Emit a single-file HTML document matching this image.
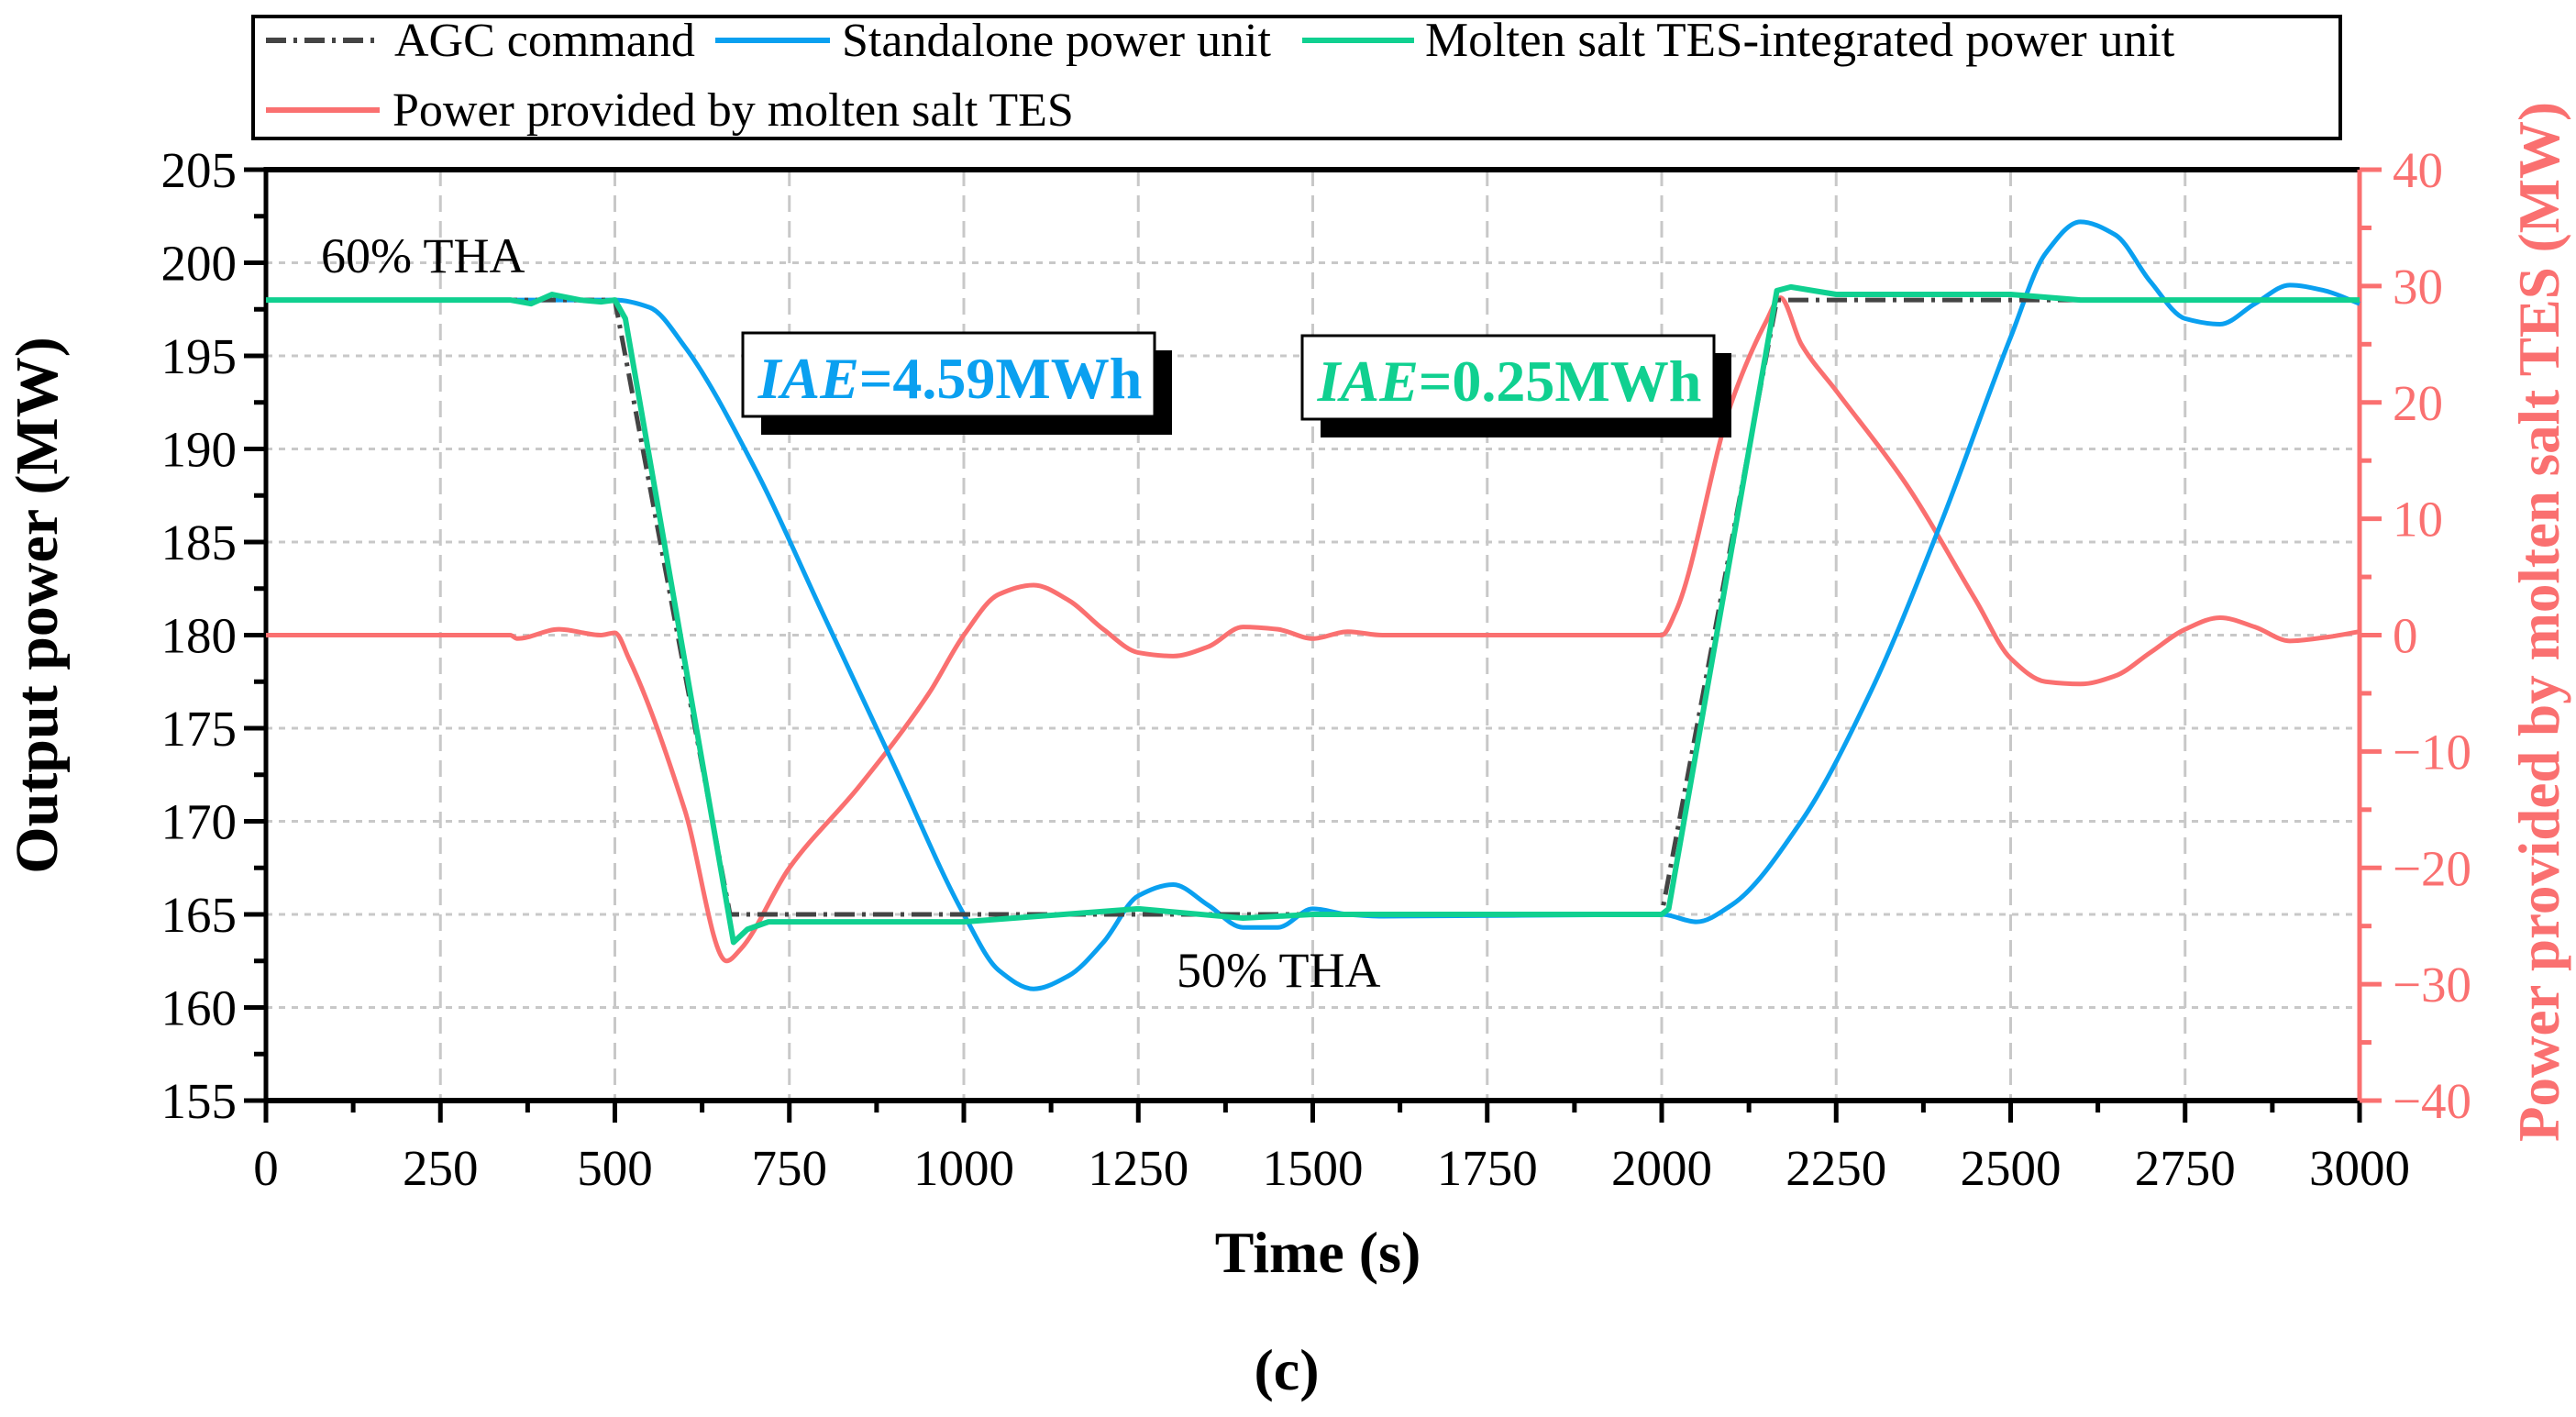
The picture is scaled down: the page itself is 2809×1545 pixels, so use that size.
<!DOCTYPE html>
<html><head><meta charset="utf-8">
<style>
html,body{margin:0;padding:0;background:#fff;}
svg{display:block;font-family:"Liberation Serif",serif;}
</style></head>
<body>
<svg id="chart" width="2809" height="1545" viewBox="0 0 2809 1545" xmlns="http://www.w3.org/2000/svg">
<g id="grid"></g>
<g id="axes"></g>
<g id="series"></g>
<g id="labels"></g>
</svg>
<script>
const xTicks=[0,250,500,750,1000,1250,1500,1750,2000,2250,2500,2750,3000];
const yLeftTicks=[155,160,165,170,175,180,185,190,195,200,205];
const yRightTicks=[-40,-30,-20,-10,0,10,20,30,40];
const agcT=[0,500,665,2000,2165,3000];
const agcV=[198,198,165,165,198,198];
const blueT=[0,500,550,600,700,800,900,1000,1050,1100,1150,1200,1250,1300,1350,1400,1450,1500,1550,1600,2000,2050,2100,2200,2300,2400,2500,2550,2600,2650,2700,2750,2800,2850,2900,2950,3000];
const blueV=[198,198,197.6,195.5,189,181,173,165,162,161,161.7,163.5,166,166.6,165.5,164.3,164.3,165.3,165,164.9,165,164.6,165.5,170,177,186,196,200.5,202.2,201.5,199,197,196.7,197.8,198.8,198.5,197.8];
const greenT=[0,350,380,410,450,480,500,515,670,690,720,1000,1250,1400,1500,2000,2010,2165,2185,2250,2500,2600,3000];
const greenV=[198,198,197.8,198.3,198,197.9,198,197,163.5,164.2,164.6,164.6,165.3,164.8,165,165,165.3,198.5,198.7,198.3,198.3,198,198];
const redT=[0,350,360,420,480,500,520,600,660,680,750,850,950,1000,1050,1100,1150,1200,1250,1300,1350,1400,1450,1500,1550,1600,2000,2020,2100,2150,2170,2200,2250,2350,2450,2500,2550,2600,2650,2700,2750,2800,2850,2900,2950,3000];
const redV=[0,0,-0.3,0.5,0,0.2,-2,-15,-28,-27,-20,-13,-5,0,3.5,4.3,3,0.5,-1.5,-1.8,-1,0.7,0.5,-0.3,0.3,0,0,2,20,27,29,25,21,13,3,-2,-4,-4.2,-3.5,-1.5,0.5,1.5,0.7,-0.5,-0.2,0.3];

const L=290,R=2573,T=185,B=1200;
const xs=t=>L+(t/3000)*(R-L);
const yl=v=>B-(v-155)/50*(B-T);
const yr=v=>B-(v+40)/80*(B-T);
const NS="http://www.w3.org/2000/svg";
function mk(tag,attrs,parent){const e=document.createElementNS(NS,tag);for(const k in attrs)e.setAttribute(k,attrs[k]);parent.appendChild(e);return e;}
const grid=document.getElementById('grid'),axes=document.getElementById('axes'),series=document.getElementById('series'),labels=document.getElementById('labels');

xTicks.forEach(t=>{if(t>0&&t<3000){const g=mk('line',{x1:xs(t),x2:xs(t),y1:T,y2:B,stroke:'#c8c8c8','stroke-width':3,'stroke-dasharray':'18 10'},grid);

}});
yLeftTicks.forEach(v=>{if(v>155&&v<205){const g=mk('line',{x1:L,x2:R,y1:yl(v),y2:yl(v),stroke:'#c8c8c8','stroke-width':3,'stroke-dasharray':'7 7'},grid);

}});

function path(ts,vs,yf,smooth){
  const p=ts.map((t,i)=>[xs(t),yf(vs[i])]);
  if(!smooth)return 'M'+p.map(q=>q.join(',')).join('L');
  const n=p.length,d=[],m=[];
  for(let i=0;i<n-1;i++)d.push((p[i+1][1]-p[i][1])/(p[i+1][0]-p[i][0]));
  m[0]=d[0];m[n-1]=d[n-2];
  for(let i=1;i<n-1;i++){
    if(d[i-1]*d[i]<=0)m[i]=0;
    else{const w1=2*(p[i+1][0]-p[i][0])+(p[i][0]-p[i-1][0]),w2=(p[i+1][0]-p[i][0])+2*(p[i][0]-p[i-1][0]);m[i]=(w1+w2)/(w1/d[i-1]+w2/d[i]);}
  }
  let s='M'+p[0].join(',');
  for(let i=0;i<n-1;i++){
    const h=(p[i+1][0]-p[i][0])/3;
    s+='C'+(p[i][0]+h)+','+(p[i][1]+m[i]*h)+' '+(p[i+1][0]-h)+','+(p[i+1][1]-m[i+1]*h)+' '+p[i+1].join(',');
  }
  return s;
}
let s;
s=mk('path',{d:path(redT,redV,yr,true),fill:'none',stroke:'#fa7070','stroke-width':5},series);


s=mk('path',{d:path(blueT,blueV,yl,true),fill:'none',stroke:'#0aa0f0','stroke-width':5},series);


s=mk('path',{d:path(agcT,agcV,yl,false),fill:'none',stroke:'#444','stroke-width':5,'stroke-dasharray':'22 8 4 8'},series);


s=mk('path',{d:path(greenT,greenV,yl,false),fill:'none',stroke:'#10d090','stroke-width':6,'stroke-linejoin':'round'},series);



mk('line',{x1:L,x2:R,y1:T,y2:T,stroke:'#000','stroke-width':6},axes);
mk('line',{x1:L,x2:R,y1:B,y2:B,stroke:'#000','stroke-width':6},axes);
mk('line',{x1:L,x2:L,y1:T-3,y2:B+3,stroke:'#000','stroke-width':5},axes);
mk('line',{x1:R,x2:R,y1:T,y2:B+3,stroke:'#fa7070','stroke-width':5},axes);
xTicks.forEach((t,i)=>{
  mk('line',{x1:xs(t),x2:xs(t),y1:B,y2:B+24,stroke:'#000','stroke-width':5},axes);
  if(i<xTicks.length-1)mk('line',{x1:xs(t+125),x2:xs(t+125),y1:B,y2:B+13,stroke:'#000','stroke-width':5},axes);
  const tx=mk('text',{x:xs(t),y:B+92,'font-size':55,'text-anchor':'middle',fill:'#000'},labels);tx.textContent=t;
  
  
});
yLeftTicks.forEach((v,i)=>{
  mk('line',{x1:L-24,x2:L,y1:yl(v),y2:yl(v),stroke:'#000','stroke-width':5},axes);
  if(i<yLeftTicks.length-1)mk('line',{x1:L-13,x2:L,y1:yl(v+2.5),y2:yl(v+2.5),stroke:'#000','stroke-width':5},axes);
  const tx=mk('text',{x:L-32,y:yl(v)+19,'font-size':55,'text-anchor':'end',fill:'#000'},labels);tx.textContent=v;
  
  
});
yRightTicks.forEach((v,i)=>{
  mk('line',{x1:R,x2:R+24,y1:yr(v),y2:yr(v),stroke:'#fa7070','stroke-width':5},axes);
  if(i<yRightTicks.length-1)mk('line',{x1:R,x2:R+13,y1:yr(v+5),y2:yr(v+5),stroke:'#fa7070','stroke-width':5},axes);
  const tx=mk('text',{x:R+36,y:yr(v)+19,'font-size':55,'text-anchor':'start',fill:'#fa7070'},labels);tx.textContent=(v<0?'\u2212'+(-v):v);
  
  
});
</script>
<svg width="2809" height="1545" viewBox="0 0 2809 1545" style="position:absolute;left:0;top:0;font-family:'Liberation Serif',serif;">
 <g>
  <rect x="276" y="18" width="2276" height="133" fill="none" stroke="#000" stroke-width="4"/>
  <g>
   <line x1="290" x2="412" y1="44" y2="44" stroke="#444" stroke-width="6" stroke-dasharray="22 8 4 8"/>
   <text x="430" y="61" font-size="52">AGC command</text></g>
  <g>
   <line x1="780" x2="905" y1="44" y2="44" stroke="#0aa0f0" stroke-width="6"/>
   <text x="918" y="61" font-size="52">Standalone power unit</text></g>
  <g>
   <line x1="1420" x2="1542" y1="44" y2="44" stroke="#10d090" stroke-width="6"/>
   <text x="1554" y="61" font-size="53">Molten salt TES-integrated power unit</text></g>
  <g>
   <line x1="290" x2="414" y1="120" y2="120" stroke="#fa7070" stroke-width="6"/>
   <text x="428" y="137" font-size="52">Power provided by molten salt TES</text></g>
 </g>
 <text x="350" y="297" font-size="54">60% THA</text>
 <text x="1283" y="1076" font-size="54">50% THA</text>
 <g>
  <rect x="830" y="382" width="448" height="92" fill="#000"/>
  <rect x="810" y="363" width="449" height="91" fill="#fff" stroke="#000" stroke-width="3"/>
  <text x="1036" y="434" font-size="64" font-weight="bold" text-anchor="middle" fill="#0aa0f0"><tspan font-style="italic">IAE</tspan>=4.59MWh</text>
 </g>
 <g>
  <rect x="1440" y="385" width="448" height="92" fill="#000"/>
  <rect x="1420" y="366" width="449" height="91" fill="#fff" stroke="#000" stroke-width="3"/>
  <text x="1646" y="437" font-size="64" font-weight="bold" text-anchor="middle" fill="#10d090"><tspan font-style="italic">IAE</tspan>=0.25MWh</text>
 </g>
 <text x="1437" y="1387" font-size="64" font-weight="bold" text-anchor="middle">Time (s)</text>
 <text transform="translate(62,660) rotate(-90)" font-size="66" font-weight="bold" text-anchor="middle">Output power (MW)</text>
 <text transform="translate(2790,678) rotate(-90)" font-size="63" font-weight="bold" text-anchor="middle" fill="#fa7070">Power provided by molten salt TES (MW)</text>
 <text x="1403" y="1515" font-size="64" font-weight="bold" text-anchor="middle">(c)</text>
</svg>
</body></html>
